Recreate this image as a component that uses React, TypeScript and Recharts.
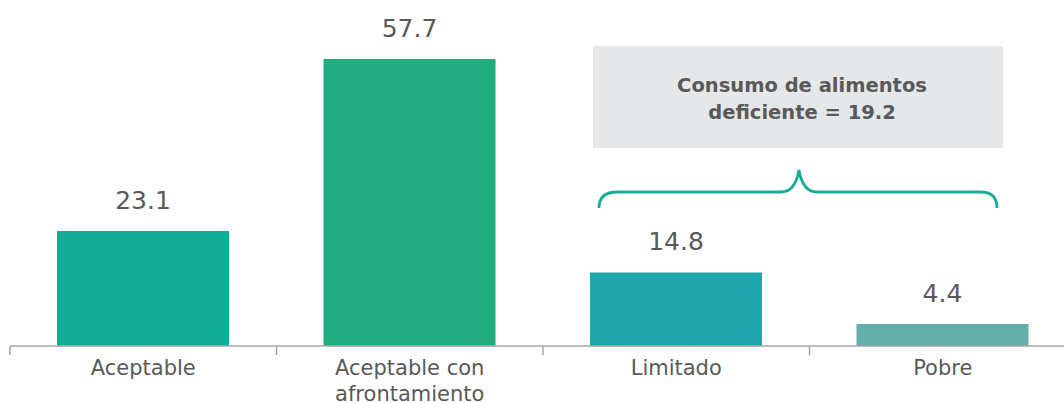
import { BarChart, Bar, XAxis, YAxis, Cell, LabelList } from "recharts";

// Datos
const CATEGORIAS = ["Aceptable", "Aceptable con afrontamiento", "Limitado", "Pobre"];
const VALORES = [23.1, 57.7, 14.8, 4.4];
const COLORES = ["#13ac98", "#22ad80", "#1fa6ab", "#64afa9"];
const NOTA = ["Consumo de alimentos", "deficiente = 19.2"];

const FONT = "'DejaVu Sans', sans-serif";
const GRIS = "#595959";

const CHART_W = 1080;
const CHART_H = 403;
const MARGIN = { top: 47.6, right: 4, left: 10, bottom: 0 };
const HALF_BAND = (CHART_W - MARGIN.left - MARGIN.right) / CATEGORIAS.length / 2;

const data = CATEGORIAS.map((name, i) => ({ name, value: VALORES[i] }));

// parte la etiqueta en líneas de ~16 caracteres
function wrap(label: string, max = 16): string[] {
  const lines: string[] = [];
  let cur = "";
  for (const w of label.split(" ")) {
    const next = cur ? `${cur} ${w}` : w;
    if (next.length > max && cur) {
      lines.push(cur);
      cur = w;
    } else cur = next;
  }
  if (cur) lines.push(cur);
  return lines;
}

function CategoryTick(props: any) {
  const { x, y, payload } = props;
  const lines = wrap(String(payload.value));
  return (
    <g>
      <line x1={x - HALF_BAND} x2={x - HALF_BAND} y1={y} y2={y + 9} stroke="#a6a6a6" strokeWidth={1.5} />
      <text textAnchor="middle" fontSize={21} fontFamily={FONT} fill={GRIS}>
        {lines.map((l, i) => (
          <tspan key={i} x={x} y={y + 29 + i * 26}>
            {l}
          </tspan>
        ))}
      </text>
    </g>
  );
}

export default function App() {
  return (
    <div
      style={{
        position: "absolute",
        left: 0,
        top: 0,
        width: 1064,
        height: 403,
        overflow: "hidden",
        background: "#fff",
      }}
    >
      <BarChart width={CHART_W} height={CHART_H} data={data} margin={MARGIN} barSize={172}>
        <YAxis hide domain={[0, 60]} />
        <XAxis
          dataKey="name"
          height={57}
          interval={0}
          tickSize={0}
          tickMargin={0}
          tickLine={false}
          axisLine={{ stroke: "#a6a6a6", strokeWidth: 1.5 }}
          tick={<CategoryTick />}
        />
        <Bar dataKey="value" isAnimationActive={false}>
          {data.map((d, i) => (
            <Cell key={d.name} fill={COLORES[i]} />
          ))}
          <LabelList
            dataKey="value"
            position="top"
            offset={22}
            fill={GRIS}
            fontSize={25}
            fontFamily={FONT}
          />
        </Bar>
      </BarChart>

      {/* Recuadro de nota */}
      <div
        style={{
          position: "absolute",
          left: 593,
          top: 46,
          width: 410,
          height: 102,
          background: "#e6e7e8",
        }}
      />
      <svg
        width={1064}
        height={403}
        style={{ position: "absolute", left: 0, top: 0, pointerEvents: "none" }}
      >
        <text
          x={802}
          y={92}
          textAnchor="middle"
          fontSize={19.5}
          fontWeight="bold"
          fontFamily={FONT}
          fill={GRIS}
        >
          {NOTA[0]}
        </text>
        <text
          x={802}
          y={119}
          textAnchor="middle"
          fontSize={19.5}
          fontWeight="bold"
          fontFamily={FONT}
          fill={GRIS}
        >
          {NOTA[1]}
        </text>
        {/* Llave */}
        <path
          d="M599,208 C599,197 605,192 617,192 L781,192 C792,192 797,182 799,170 C801,182 806,192 817,192 L980,192 C992,192 997,197 997,208"
          fill="none"
          stroke="#1aab96"
          strokeWidth={2.8}
        />
      </svg>
    </div>
  );
}
